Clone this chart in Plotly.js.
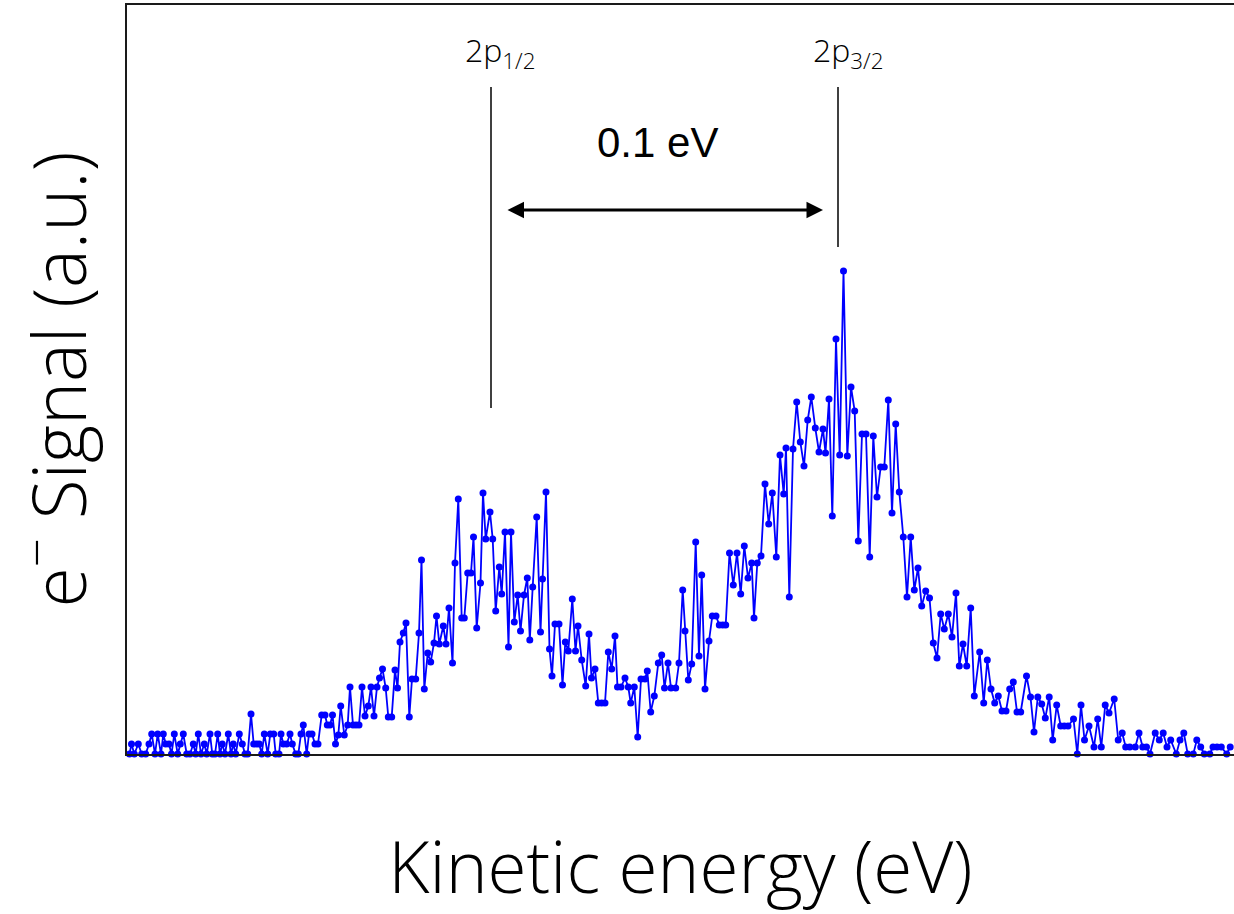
<!DOCTYPE html>
<html><head><meta charset="utf-8">
<script src="https://cdn.plot.ly/plotly-3.0.1.min.js"></script>
<style>html,body{margin:0;padding:0;background:#fff}#chart{width:1234px;height:914px}</style>
</head><body><div id="chart"></div>
<script>
// Kinetic energy (arbitrary units, non-uniform sampling from time-of-flight bins)
const energy = [129.5,131.5,134.3,138.3,141.7,145.7,149,151.7,155,157.7,
161,163.3,165.7,169,171.5,174.3,177.7,180.3,183.3,186.7,
190,193.3,195.7,198.3,201,204.3,206.7,210,212.3,215,
217.7,220,222.3,225,228.3,231,233.3,235.7,239.3,242.3,
245,247.7,251,253.7,256.7,259.3,261.7,264.3,267.7,270.3,
273.7,275.7,279,281,283.3,286.7,290,292.3,295.7,298.3,
301,303.3,306.7,309,312,315,318,321.7,325,327.3,
330,332.5,335.5,338.3,340.7,344.3,347.7,350,353,356,
359,362,365,368.3,371,374,377,379.5,382.5,385.7,
388.3,391.7,395,397.5,400,403.3,406,409.3,412,415.7,
419,421.5,424.3,427.7,430.7,434,436.5,439.3,443.3,446,
449,452.5,455,458.3,461.7,464.3,467.7,471,473.5,476.7,
480.5,483,485.7,490,492.7,495.7,499.3,501.7,505,508.5,
511,514.3,517.7,520.5,524,527.3,529.8,532.7,536.7,540.5,
542.5,546,549.5,552,555,559,562.5,565.3,568.3,572.3,
575.5,578,581.7,585.7,589,591.5,595,598.3,601.7,605,
608.3,611.7,615,617.5,621,625,628.3,630.7,634.3,637.7,
641,645,647.3,650.7,654.3,658.3,661.7,664.5,668,671,
675.7,679,682.7,685,688.3,691.7,695.7,699,701.7,705,
709,712.3,716,719.3,722.7,725.7,729.5,733.3,737,740.7,
744.3,748,751.7,754,757.3,761,765,768.7,772.3,776.3,
780,783.7,786,789.3,793,796.7,800.3,804,807.7,811.3,
815.3,819,823,825.5,829,832.3,836,839.7,843.5,847.3,
851,854.7,858.3,862,866,869.7,873.3,877,880.7,884.3,
888.3,892,895.7,899.3,903.3,907,910.7,914.3,918,921.7,
925.7,929.5,933.3,937,940.7,944.3,948.3,952,956,959.3,
963,966.7,970.7,974.3,979.7,983.7,987.3,991,994.7,998.3,
1002,1006,1009.7,1013.3,1017,1020.7,1026.5,1030.5,1034,1037.8,
1041.7,1045.3,1049.2,1052.7,1056.7,1060.7,1064.3,1068,1073.5,1077.3,
1081,1084.5,1089,1094,1097.7,1101.3,1105.2,1109,1114.2,1118.2,
1122.2,1125.7,1129.8,1135.3,1139,1142.7,1146.5,1150,1155.2,1159.3,
1163.2,1167,1170.7,1176.3,1180,1183.8,1187.7,1193.3,1196.8,1200.7,
1204.3,1209.8,1213,1217,1221.3,1226.7,1230.2];

// Electron signal (arbitrary units)
const signal = [0,10,0,10,0,0,10,20,0,20,
0,20,10,10,0,20,0,10,20,0,
0,10,0,20,0,10,0,20,0,0,
20,0,10,0,20,0,10,0,20,10,
0,0,40,10,10,10,0,20,0,20,
20,0,0,20,10,10,20,10,0,0,
20,29,0,20,20,10,10,39,39,29,
29,39,10,19,48,19,29,67,29,29,
29,67,38,48,67,38,67,76,85,66,
37,37,84,66,112,121,131,37,75,75,
121,194,65,101,92,111,138,110,128,110,
146,91,191,255,136,136,181,181,217,126,
171,261,215,242,215,143,187,160,222,107,
222,132,159,123,159,176,114,167,237,122,
175,262,105,78,130,130,69,112,103,155,
103,128,94,68,120,76,85,51,51,51,
102,85,118,67,67,76,67,51,67,17,
75,75,83,42,58,91,99,66,91,66,
66,91,164,123,74,90,212,98,179,65,
113,138,138,129,129,129,201,169,201,160,
208,176,191,136,191,198,270,230,261,197,
299,260,306,157,305,352,312,288,334,357,
326,302,325,301,355,238,415,299,483,298,
367,343,213,320,320,197,318,257,287,287,
354,241,330,262,217,157,217,164,186,148,
163,156,111,96,140,125,140,117,161,88,
110,88,146,58,102,51,94,65,51,58,
43,43,65,72,42,42,78,57,22,57,
50,36,57,14,49,28,28,28,35,0,
49,14,28,7,35,7,49,41,55,14,
21,7,7,7,21,7,7,0,21,14,
21,7,14,0,14,21,0,0,14,7,
0,0,7,7,7,0,7];

// Spin-orbit components
const lineLabels = ['2p<sub>1/2</sub>', '2p<sub>3/2</sub>'];
const linePositions = [491, 838];
const splittingLabel = '0.1 eV';

const thinFont = '"Open Sans", Roboto, "DejaVu Sans", sans-serif';

const trace = {
  x: energy, y: signal, type: 'scatter', mode: 'lines+markers',
  line: {color: '#0000ff', width: 1.8},
  marker: {color: '#0000ff', size: 7},
  cliponaxis: false, hoverinfo: 'skip'
};

const layout = {
  width: 1234, height: 914,
  margin: {l: 127, r: 0, t: 5, b: 160},
  paper_bgcolor: '#fff', plot_bgcolor: '#fff',
  showlegend: false,
  xaxis: {
    range: [127, 1234], showgrid: false, zeroline: false, showticklabels: false, ticks: '',
    showline: true, linecolor: '#1a1a1a', linewidth: 2, mirror: true,
    title: {text: 'Kinetic energy (eV)', font: {family: thinFont, size: 71, weight: 300, color: '#000'}, standoff: 93}
  },
  yaxis: {
    range: [0, 749], showgrid: false, zeroline: false, showticklabels: false, ticks: '',
    showline: true, linecolor: '#1a1a1a', linewidth: 2, mirror: false,
    title: {text: 'e<sup>\u2212</sup> Signal (a.u.)', font: {family: thinFont, size: 73, weight: 300, color: '#000'}, standoff: 36}
  },
  shapes: [
    {type: 'line', xref: 'x', yref: 'y', x0: linePositions[0], x1: linePositions[0], y0: 346, y1: 667, line: {color: '#000', width: 1.5}},
    {type: 'line', xref: 'x', yref: 'y', x0: linePositions[1], x1: linePositions[1], y0: 507, y1: 667, line: {color: '#000', width: 1.5}}
  ],
  annotations: [
    {x: 500, y: 702, xref: 'x', yref: 'y', text: lineLabels[0], showarrow: false,
     font: {family: thinFont, size: 32, weight: 300, color: '#000'}},
    {x: 848, y: 702, xref: 'x', yref: 'y', text: lineLabels[1], showarrow: false,
     font: {family: thinFont, size: 32, weight: 300, color: '#000'}},
    {x: 657, y: 612, xref: 'x', yref: 'y', text: splittingLabel, showarrow: false,
     font: {family: '"Liberation Sans", Arial, sans-serif', size: 42, color: '#000'}},
    {x: 823, y: 544, ax: 506, ay: 544, xref: 'x', yref: 'y', axref: 'x', ayref: 'y',
     text: '', showarrow: true, arrowhead: 2, arrowside: 'end+start', arrowsize: 1.1,
     arrowwidth: 3, arrowcolor: '#000', standoff: 0, startstandoff: 0}
  ]
};

Plotly.newPlot('chart', [trace], layout, {displayModeBar: false, staticPlot: true});
</script>
</body></html>
